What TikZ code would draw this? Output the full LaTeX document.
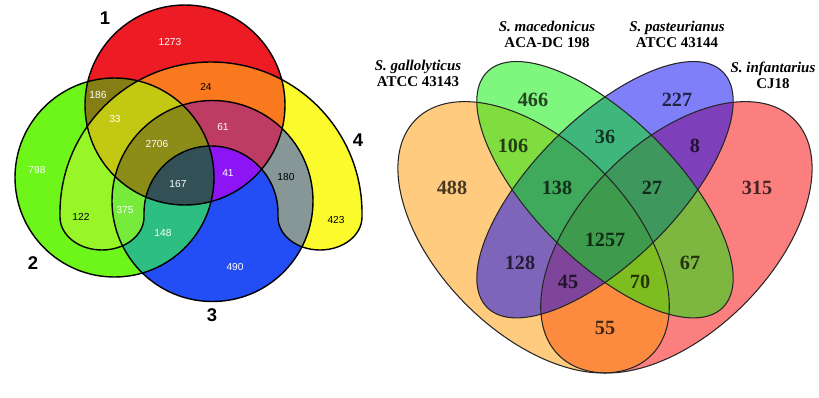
\documentclass[tikz,border=0pt]{standalone}
\usepackage{fontspec}
\setmainfont{Liberation Serif}
\setsansfont{Liberation Sans}
\usepackage{tikz}

% left diagram colours
\definecolor{cA}{RGB}{237,28,36}
\definecolor{cB}{RGB}{110,245,25}
\definecolor{cC}{RGB}{35,78,245}
\definecolor{cD}{RGB}{250,250,45}
\definecolor{cAB}{RGB}{132,126,20}
\definecolor{cAC}{RGB}{140,20,245}
\definecolor{cAD}{RGB}{250,120,30}
\definecolor{cBC}{RGB}{45,190,130}
\definecolor{cBD}{RGB}{152,245,40}
\definecolor{cCD}{RGB}{135,150,150}
\definecolor{cABC}{RGB}{50,80,85}
\definecolor{cABD}{RGB}{195,200,18}
\definecolor{cACD}{RGB}{190,60,100}
\definecolor{cBCD}{RGB}{118,235,60}
\definecolor{cABCD}{RGB}{140,140,25}
% right diagram colours
\definecolor{galorange}{RGB}{255,152,0}
\definecolor{macgreen}{RGB}{0,240,0}
\definecolor{pasblue}{RGB}{0,0,245}
\definecolor{infred}{RGB}{248,0,0}

\tikzstyle{ring}=[draw=black,line width=0.8pt]
\tikzstyle{cnt}=[font=\sffamily\fontsize{5.8}{7}\selectfont,text=white,inner sep=0pt]
\tikzstyle{darkcnt}=[cnt,text=black]
\tikzstyle{setname}=[font=\sffamily\bfseries\fontsize{10.5}{12}\selectfont,inner sep=0pt]
\tikzstyle{tint}=[fill opacity=0.5]
\tikzstyle{rim}=[draw=black!85,line width=0.6pt]
\tikzstyle{num}=[font=\bfseries\fontsize{11.5}{13}\selectfont,text=black,text opacity=0.72,inner sep=0pt]
\tikzstyle{strain}=[font=\bfseries\fontsize{8.5}{9.1}\selectfont,align=center,inner sep=0pt]

\def\regA{(185,292) circle (100)}
\def\regB{(114.5,219.5) circle (99.5)}
\def\regC{(212.5,196) circle (100.5)}
\def\regD{(60,184) arc[start angle=180,end angle=0,radius=151] -- (362,180)
  arc[start angle=0,end angle=-180,x radius=42,y radius=33] -- (278,184)
  arc[start angle=0,end angle=180,radius=67] -- (144,180)
  arc[start angle=0,end angle=-180,x radius=42,y radius=33] -- cycle}

\begin{document}
\begin{tikzpicture}[x=0.02cm,y=0.02cm]
    \useasboundingbox (0,0) rectangle (819,397);

    % left: three circles and the horseshoe
    \fill[cA] \regA; \fill[cB] \regB; \fill[cC] \regC; \fill[cD] \regD;
    \begin{scope} \clip \regA; \fill[cAB] \regB; \fill[cAC] \regC; \fill[cAD] \regD; \end{scope}
    \begin{scope} \clip \regB; \fill[cBC] \regC; \fill[cBD] \regD; \end{scope}
    \begin{scope} \clip \regC; \fill[cCD] \regD; \end{scope}
    \begin{scope} \clip \regA; \clip \regB; \fill[cABC] \regC; \fill[cABD] \regD; \end{scope}
    \begin{scope} \clip \regA; \clip \regC; \fill[cACD] \regD; \end{scope}
    \begin{scope} \clip \regB; \clip \regC; \fill[cBCD] \regD; \end{scope}
    \begin{scope} \clip \regA; \clip \regB; \clip \regC; \fill[cABCD] \regD; \end{scope}
    \draw[ring] \regA; \draw[ring] \regB; \draw[ring] \regC; \draw[ring] \regD;

    \node[setname] (s1) at (105,379) {1};
    \node[setname] (s2) at (33,134) {2};
    \node[setname] (s3) at (212,82) {3};
    \node[setname] (s4) at (358,257) {4};

    \node[cnt] (a1273) at (170,355) {1273};
    \node[darkcnt] (a24) at (206,310) {24};
    \node[cnt] (a186) at (98,302) {186};
    \node[cnt] (a33) at (115,278) {33};
    \node[cnt] (a61) at (223,270) {61};
    \node[cnt] (a2706) at (157,253) {2706};
    \node[cnt] (a798) at (37,227) {798};
    \node[cnt] (a41) at (228,224) {41};
    \node[darkcnt] (a180) at (286,220) {180};
    \node[cnt] (a167) at (178,213) {167};
    \node[darkcnt] (a122) at (81,180) {122};
    \node[cnt] (a375) at (125,187) {375};
    \node[cnt] (a148) at (163,164) {148};
    \node[darkcnt] (a423) at (336,177) {423};
    \node[cnt] (a490) at (235,130) {490};

    % right: four ellipses
    \coordinate (gal) at (533.6,159.7);
    \coordinate (mac) at (605,207.3);
    \coordinate (pas) at (605,207.3);
    \coordinate (inf) at (676.4,159.7);
    \fill[tint,infred,rotate around={45:(inf)}] (inf) ellipse [x radius=166.6,y radius=95.2];
    \fill[tint,galorange,rotate around={-45:(gal)}] (gal) ellipse [x radius=166.6,y radius=95.2];
    \fill[tint,pasblue,rotate around={45:(pas)}] (pas) ellipse [x radius=166.6,y radius=71.4];
    \fill[tint,macgreen,rotate around={-45:(mac)}] (mac) ellipse [x radius=166.6,y radius=71.4];
    \draw[rim,rotate around={45:(inf)}] (inf) ellipse [x radius=166.6,y radius=95.2];
    \draw[rim,rotate around={-45:(gal)}] (gal) ellipse [x radius=166.6,y radius=95.2];
    \draw[rim,rotate around={45:(pas)}] (pas) ellipse [x radius=166.6,y radius=71.4];
    \draw[rim,rotate around={-45:(mac)}] (mac) ellipse [x radius=166.6,y radius=71.4];

    \node[strain] (galname) at (418,324) {\textit{S. gallolyticus}\\ATCC 43143};
    \node[strain] (macname) at (547,363) {\textit{S. macedonicus}\\ACA-DC 198};
    \node[strain] (pasname) at (677,363) {\textit{S. pasteurianus}\\ATCC 43144};
    \node[strain] (infname) at (773,322) {\textit{S. infantarius}\\CJ18};

    \node[num] (b466) at (533,297) {466};
    \node[num] (b227) at (677,297) {227};
    \node[num] (b106) at (513,251) {106};
    \node[num] (b36) at (605,260) {36};
    \node[num] (b8) at (695,251) {8};
    \node[num] (b488) at (452,209) {488};
    \node[num] (b138) at (557,209) {138};
    \node[num] (b27) at (652,209) {27};
    \node[num] (b315) at (757,209) {315};
    \node[num] (b1257) at (605,157) {1257};
    \node[num] (b128) at (520,134) {128};
    \node[num] (b67) at (690,134) {67};
    \node[num] (b45) at (568,115) {45};
    \node[num] (b70) at (640,115) {70};
    \node[num] (b55) at (605,69) {55};
\end{tikzpicture}
\end{document}
